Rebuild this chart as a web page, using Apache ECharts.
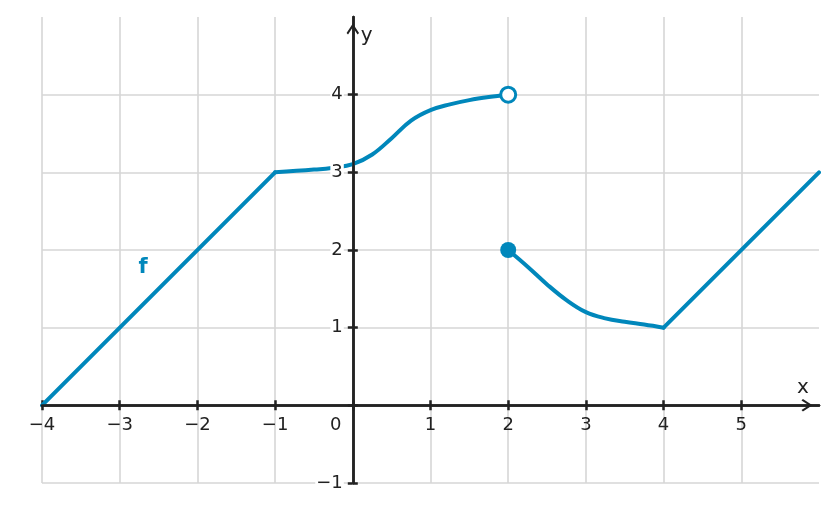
<!DOCTYPE html>
<html><head><meta charset="utf-8">
<script src="https://cdn.jsdelivr.net/npm/echarts@6/dist/echarts.min.js"></script>
<style>html,body{margin:0;padding:0;background:#fff}#c{width:837px;height:512px}</style>
</head><body><div id="c"></div>
<script>
const lineA = [[-4, 0], [-1, 3]];
const curveA = [[-1, 3.0], [-0.5, 3.035], [-0.25, 3.06], [0, 3.105], [0.25, 3.23], [0.5, 3.44], [0.75, 3.665], [1, 3.8], [1.25, 3.875], [1.5, 3.93], [1.75, 3.97], [2, 4]];
const curveB = [[2, 2], [2.25, 1.785], [2.5, 1.557], [2.75, 1.355], [3, 1.2], [3.25, 1.12], [3.5, 1.075], [3.75, 1.04], [4, 1]];
const lineB = [[4, 1], [6, 3]];
const openPoint = [[2, 4]];
const closedPoint = [[2, 2]];
const fLabel = [[-2.7, 1.77]];
const xTicks = [-4, -3, -2, -1, 0, 1, 2, 3, 4, 5];
const xTickLabels = [-4, -3, -2, -1, 0, 1, 2, 3, 4, 5];
const yTicks = [-1, 0, 1, 2, 3, 4];
const yTickLabels = [-1, 1, 2, 3, 4];

const BLUE = '#0087bb';
const AX = '#222222';
const GRIDC = '#d6d6d6';
const FONT = 'DejaVu Sans';
const arrowPath = 'path://M0,0 L6.5,10 L5,11.5 L0,3.8 L-5,11.5 L-6.5,10 Z';
const fmt = v => (v < 0 ? '\u2212' + Math.abs(v) : String(v));

const W = 837, H = 512;
const G = { left: 42, right: 18, top: 17, bottom: 29 };
const XMIN = -4, XMAX = 6, YMIN = -1, YMAX = 5;
const plotW = W - G.left - G.right, plotH = H - G.top - G.bottom;
// offsets that move the edge axes onto the zero lines
const offBottom = -(0 - YMIN) / (YMAX - YMIN) * plotH;
const offTop = -(YMAX - 0) / (YMAX - YMIN) * plotH;
const offLeft = -(0 - XMIN) / (XMAX - XMIN) * plotW;
const offRight = -(XMAX - 0) / (XMAX - XMIN) * plotW;

const chart = echarts.init(document.getElementById('c'));
chart.setOption({
  animation: false,
  backgroundColor: '#fff',
  grid: G,
  xAxis: [
    {
      type: 'value', min: XMIN, max: XMAX, interval: 1, position: 'bottom', offset: offBottom, z: 10,
      axisLine: { show: true, onZero: false, lineStyle: { color: AX, width: 2.5 },
        symbol: ['none', arrowPath], symbolSize: [13, 11], symbolOffset: [0, -12] },
      axisTick: { show: true, length: 5, customValues: xTicks, lineStyle: { color: AX, width: 2.5 } },
      axisLabel: { show: true, customValues: xTickLabels, margin: 11, color: AX, fontFamily: FONT, fontSize: 18,
        formatter: v => (v === 0 ? '{o|0}' : fmt(v)),
        rich: { o: { padding: [0, 34, 0, 0], color: AX, fontFamily: FONT, fontSize: 18 } } },
      splitLine: { show: false },
      name: 'x', nameLocation: 'end', nameGap: -16,
      nameTextStyle: { color: AX, fontFamily: FONT, fontSize: 20, align: 'center', verticalAlign: 'bottom', padding: [0, 0, 8, 0] }
    },
    {
      type: 'value', min: XMIN, max: XMAX, interval: 1, position: 'top', offset: offTop, z: 0,
      axisLine: { show: true, onZero: false, lineStyle: { color: AX, width: 2.5 } },
      axisTick: { show: true, length: 5, customValues: xTicks, lineStyle: { color: AX, width: 2.5 } },
      axisLabel: { show: false },
      splitLine: { show: true, lineStyle: { color: GRIDC, width: 1.6 } }
    }
  ],
  yAxis: [
    {
      type: 'value', min: YMIN, max: YMAX, interval: 1, position: 'left', offset: offLeft, z: 10,
      axisLine: { show: true, onZero: false, lineStyle: { color: AX, width: 2.5 },
        symbol: ['none', arrowPath], symbolSize: [13, 11], symbolOffset: [0, -12] },
      axisTick: { show: true, length: 5, customValues: yTicks, lineStyle: { color: AX, width: 2.5 } },
      axisLabel: { show: true, customValues: yTickLabels, margin: 9, color: AX, fontFamily: FONT, fontSize: 18,
        formatter: v => fmt(v), backgroundColor: '#fff', padding: [0, 1, 0, 1] },
      splitLine: { show: false },
      name: 'y', nameLocation: 'end', nameGap: -19,
      nameTextStyle: { color: AX, fontFamily: FONT, fontSize: 20, align: 'left', verticalAlign: 'middle', padding: [0, 0, 0, 8] }
    },
    {
      type: 'value', min: YMIN, max: YMAX, interval: 1, position: 'right', offset: offRight, z: 0,
      axisLine: { show: true, onZero: false, lineStyle: { color: AX, width: 2.5 } },
      axisTick: { show: true, length: 5, customValues: yTicks, lineStyle: { color: AX, width: 2.5 } },
      axisLabel: { show: false },
      splitLine: { show: true, lineStyle: { color: GRIDC, width: 1.6 } }
    }
  ],
  series: [
    { type: 'line', data: lineA, showSymbol: false, lineStyle: { color: BLUE, width: 4, cap: 'round', join: 'round' }, z: 3 },
    { type: 'line', data: curveA, smooth: 0.4, showSymbol: false, lineStyle: { color: BLUE, width: 4, cap: 'round', join: 'round' }, z: 3 },
    { type: 'line', data: curveB, smooth: 0.4, showSymbol: false, lineStyle: { color: BLUE, width: 4, cap: 'round', join: 'round' }, z: 3 },
    { type: 'line', data: lineB, showSymbol: false, lineStyle: { color: BLUE, width: 4, cap: 'round', join: 'round' }, z: 3 },
    { type: 'scatter', data: openPoint, symbol: 'circle', symbolSize: 15, itemStyle: { color: '#fff', borderColor: BLUE, borderWidth: 3, opacity: 1 }, z: 6 },
    { type: 'scatter', data: closedPoint, symbol: 'circle', symbolSize: 16, itemStyle: { color: BLUE, opacity: 1 }, z: 6 },
    { type: 'scatter', data: fLabel, symbolSize: 0, z: 6, itemStyle: { opacity: 1 },
      label: { show: true, position: 'inside', formatter: 'f', color: BLUE, fontFamily: FONT, fontWeight: 'bold', fontSize: 21 } }
  ]
});
</script></body></html>
